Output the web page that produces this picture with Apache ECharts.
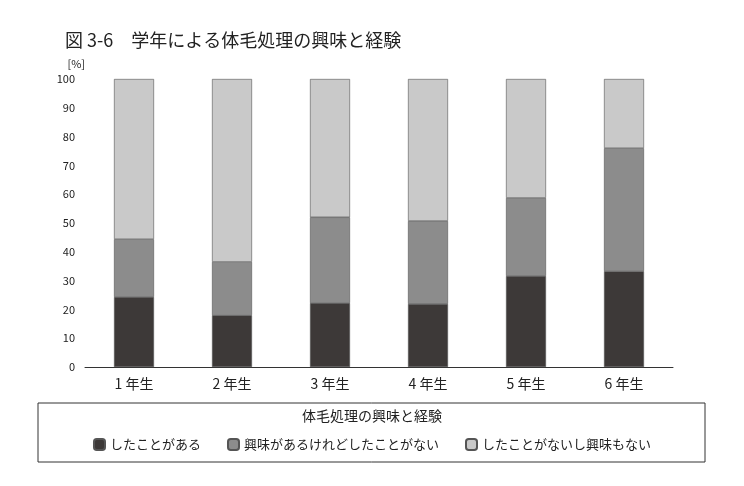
<!DOCTYPE html><html><head><meta charset="utf-8"><script src="https://cdn.jsdelivr.net/npm/echarts@6/dist/echarts.min.js"></script>
<style>body{margin:0;background:#fff}#c{width:744px;height:486px}</style></head><body><div id="c"></div><script>
const categories=['1 年生','2 年生','3 年生','4 年生','5 年生','6 年生'];
const seriesNames=['したことがある','興味があるけれどしたことがない','したことがないし興味もない'];
const done=[24.3,18.0,22.2,21.9,31.6,33.3];
const interested=[20.1,18.5,29.8,28.8,27.1,42.7];
const none=[55.6,63.5,48.0,49.3,41.3,24.0];
const colors=['#3d3938','#8c8c8c','#c9c9c9'];
const font='"Noto Sans CJK JP"';
const chart=echarts.init(document.getElementById('c'));
const mk=(n,d,i)=>({name:n,type:'bar',stack:'a',data:d,barWidth:40,itemStyle:{color:colors[i],borderColor:'#555',borderWidth:0.6}});
chart.setOption({
 animation:false,
 textStyle:{fontFamily:font},
 title:{text:'図 3-6　学年による体毛処理の興味と経験',left:60,top:26,textStyle:{fontSize:18,fontWeight:'normal',color:'#222',fontFamily:font}},
 grid:{left:85,right:71,top:79,bottom:119},
 xAxis:{type:'category',data:categories,axisTick:{show:false},axisLine:{lineStyle:{color:'#333'}},axisLabel:{fontSize:14,color:'#222',margin:10}},
 yAxis:{type:'value',min:0,max:100,interval:10,name:'[%]',nameLocation:'end',nameGap:10,nameTextStyle:{align:'right',padding:[0,0,0,0],fontSize:11,color:'#222'},axisLine:{show:false},axisTick:{show:false},splitLine:{show:false},axisLabel:{fontSize:11,color:'#222',margin:10}},
 legend:{bottom:30,left:'center',itemWidth:11,itemHeight:11,itemGap:26,textStyle:{fontSize:13,color:'#222'},data:seriesNames},
 graphic:[
  {type:'rect',shape:{x:38,y:403,width:667,height:59},style:{fill:'none',stroke:'#333',lineWidth:1}},
  {type:'text',left:'center',top:409,style:{text:'体毛処理の興味と経験',fontSize:14,fill:'#222',fontFamily:font}}
 ],
 series:[mk(seriesNames[0],done,0),mk(seriesNames[1],interested,1),mk(seriesNames[2],none,2)]
});
</script></body></html>
